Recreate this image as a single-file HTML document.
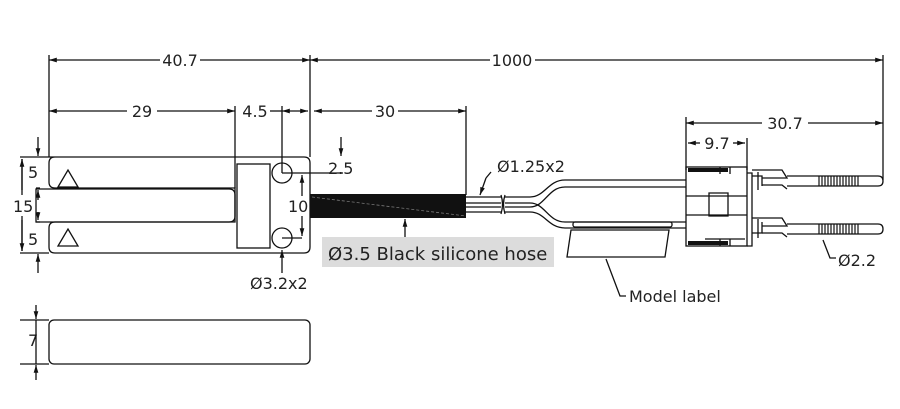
<!DOCTYPE html>
<html><head><style>body{margin:0;background:#fff}svg{display:block}text{font-family:"DejaVu Sans","Liberation Sans",sans-serif;fill:#222}</style></head><body>
<svg width="900" height="409" viewBox="0 0 900 409" xmlns="http://www.w3.org/2000/svg">
<defs><marker id="a" viewBox="0 0 10 10" refX="10" refY="5" markerWidth="9" markerHeight="6" orient="auto-start-reverse"><path d="M0,2 L10,5 L0,8 z" fill="#111"/></marker></defs>
<g stroke="#111" stroke-width="1.3" fill="none">
<!-- extension lines -->
<path d="M49 55V157M310 55V157M883 55V180M235 106V188M282 106V173M466 106V195M686 117V170M747 138V170"/>
<!-- dims -->
<path d="M49 60H160M200 60H310" marker-start="url(#a)" marker-end="url(#a)"/>
<path d="M310 60H490M535 60H883" marker-start="url(#a)" marker-end="url(#a)"/>
<line x1="49" y1="111" x2="127" y2="111" marker-start="url(#a)"/>
<line x1="157" y1="111" x2="235" y2="111" marker-end="url(#a)"/>
<path d="M270 111H282"/><line x1="282" y1="111" x2="308" y2="111" marker-start="url(#a)" marker-end="url(#a)"/>
<line x1="314" y1="111" x2="372" y2="111" marker-start="url(#a)"/>
<line x1="398" y1="111" x2="466" y2="111" marker-end="url(#a)"/>
<line x1="686" y1="123" x2="762" y2="123" marker-start="url(#a)"/>
<line x1="808" y1="123" x2="883" y2="123" marker-end="url(#a)"/>
<line x1="688" y1="143" x2="700" y2="143" marker-start="url(#a)"/>
<line x1="733" y1="143" x2="745" y2="143" marker-end="url(#a)"/>
<!-- left dims -->
<path d="M20 157H49M20 253H49M36 188H40M36 222H40"/>
<line x1="38" y1="137" x2="38" y2="156" marker-end="url(#a)"/>
<line x1="38" y1="273" x2="38" y2="254" marker-end="url(#a)"/>
<path d="M22 159V195M22 216V251" />
<line x1="22" y1="190" x2="22" y2="159" marker-end="url(#a)"/>
<line x1="22" y1="220" x2="22" y2="251" marker-end="url(#a)"/>
<line x1="38" y1="200" x2="38" y2="190" marker-end="url(#a)"/>
<line x1="38" y1="212" x2="38" y2="220" marker-end="url(#a)"/>
<!-- 2.5, 10 -->
<path d="M282 173H343"/>
<line x1="341" y1="137" x2="341" y2="156" marker-end="url(#a)"/>
<line x1="341" y1="213" x2="341" y2="195" marker-end="url(#a)"/>
<line x1="302" y1="196" x2="302" y2="175" marker-end="url(#a)"/>
<line x1="302" y1="216" x2="302" y2="236" marker-end="url(#a)"/>
<path d="M282 238H302"/>
<!-- body -->
<path d="M49 157H304Q310 157 310 163V247Q310 253 304 253H55Q49 253 49 247V228Q49 222 55 222H235V188H55Q49 188 49 182V163Q49 157 55 157Z"/>
<path d="M36 189H229Q235 189 235 195V216Q235 222 229 222H36Z"/>
<rect x="237" y="164" width="33" height="84"/>
<circle cx="282" cy="173" r="10"/><circle cx="282" cy="238" r="10"/>
<path d="M58 187L68 170L78 187ZM58 246L68 229L78 246Z"/>
<!-- arrows for labels -->
<line x1="405" y1="237" x2="405" y2="219" marker-end="url(#a)"/>
<line x1="282" y1="273" x2="282" y2="250" marker-end="url(#a)"/>
<path d="M491 172L486 178" /><line x1="486" y1="178" x2="480" y2="195" marker-end="url(#a)"/>
<path d="M606 259L620 296H626M823 240L830 258H836"/>
<!-- wires -->
<path d="M466 197H501M466 207H501M466 203H501M466 212H501"/>
<path d="M505 197H530C545 197 548 180 565 180H686M505 207H530C545 207 548 187 565 187H686"/>
<path d="M505 203H530C545 203 548 222 565 222H686M505 212H530C545 212 548 228 565 228H686"/>
<path d="M501 195Q504 204 501 214M505 195Q502 204 505 214"/>
<!-- label -->
<rect x="573" y="222" width="99" height="5" rx="2"/>
<path d="M571 230H669L665 257H567Z"/>
<!-- connector -->
<rect x="686" y="167" width="61" height="79"/>
<path d="M686 196H747M686 215H747M709 193H728V216H709ZM720 167V174M730 167V174M705 239H745M720 239V246M730 239V246"/>
<path d="M747 173H752V246H747M752 176H762V186M752 233H762V222"/>
<path d="M752 170H782L787 178H762M762 185H782L787 189M752 218H782L787 226H762M762 233H782L787 237M758 172V190M758 219V238"/>
<path d="M787 176H878Q883 176 883 181Q883 186 878 186H787M787 224H878Q883 224 883 229Q883 234 878 234H787"/>
</g>
<rect x="688" y="168" width="40" height="4" fill="#111"/><rect x="688" y="241" width="40" height="4" fill="#111"/>
<g stroke="#111" stroke-width="1.2">
<path d="M819 176V186M822 176V186M825 176V186M828 176V186M831 176V186M834 176V186M837 176V186M840 176V186M843 176V186M846 176V186M849 176V186M852 176V186M855 176V186M858 176V186"/>
<path d="M819 224V234M822 224V234M825 224V234M828 224V234M831 224V234M834 224V234M837 224V234M840 224V234M843 224V234M846 224V234M849 224V234M852 224V234M855 224V234M858 224V234"/>
</g>
<rect x="310" y="194" width="156" height="24" fill="#111"/>
<path d="M312 197L466 216" stroke="#777" stroke-width="0.8" stroke-dasharray="3 2"/>
<rect x="322" y="237" width="232" height="30" fill="#dcdcdc"/>
<g font-size="16">
<text x="180" y="66" text-anchor="middle">40.7</text>
<text x="512" y="66" text-anchor="middle">1000</text>
<text x="142" y="117" text-anchor="middle">29</text>
<text x="255" y="117" text-anchor="middle">4.5</text>
<text x="385" y="117" text-anchor="middle">30</text>
<text x="785" y="129" text-anchor="middle">30.7</text>
<text x="717" y="149" text-anchor="middle">9.7</text>
<text x="28" y="178">5</text><text x="28" y="245">5</text>
<text x="13" y="212">15</text>
<text x="288" y="212">10</text>
<text x="328" y="174">2.5</text>
<text x="497" y="172">Ø1.25x2</text>
<text x="250" y="289">Ø3.2x2</text>
<text x="838" y="266">Ø2.2</text>
<text x="629" y="302">Model label</text>
<text x="328" y="260" font-size="18">Ø3.5 Black silicone hose</text>
<text x="28" y="346">7</text>
</g>
<g stroke="#111" stroke-width="1.3" fill="none">
<rect x="49" y="320" width="261" height="44" rx="5"/>
<path d="M20 320H49M20 364H49"/>
<line x1="36" y1="305" x2="36" y2="319" marker-end="url(#a)"/>
<line x1="36" y1="380" x2="36" y2="365" marker-end="url(#a)"/>
<path d="M36 320V364"/>
</g>
</svg>
</body></html>
